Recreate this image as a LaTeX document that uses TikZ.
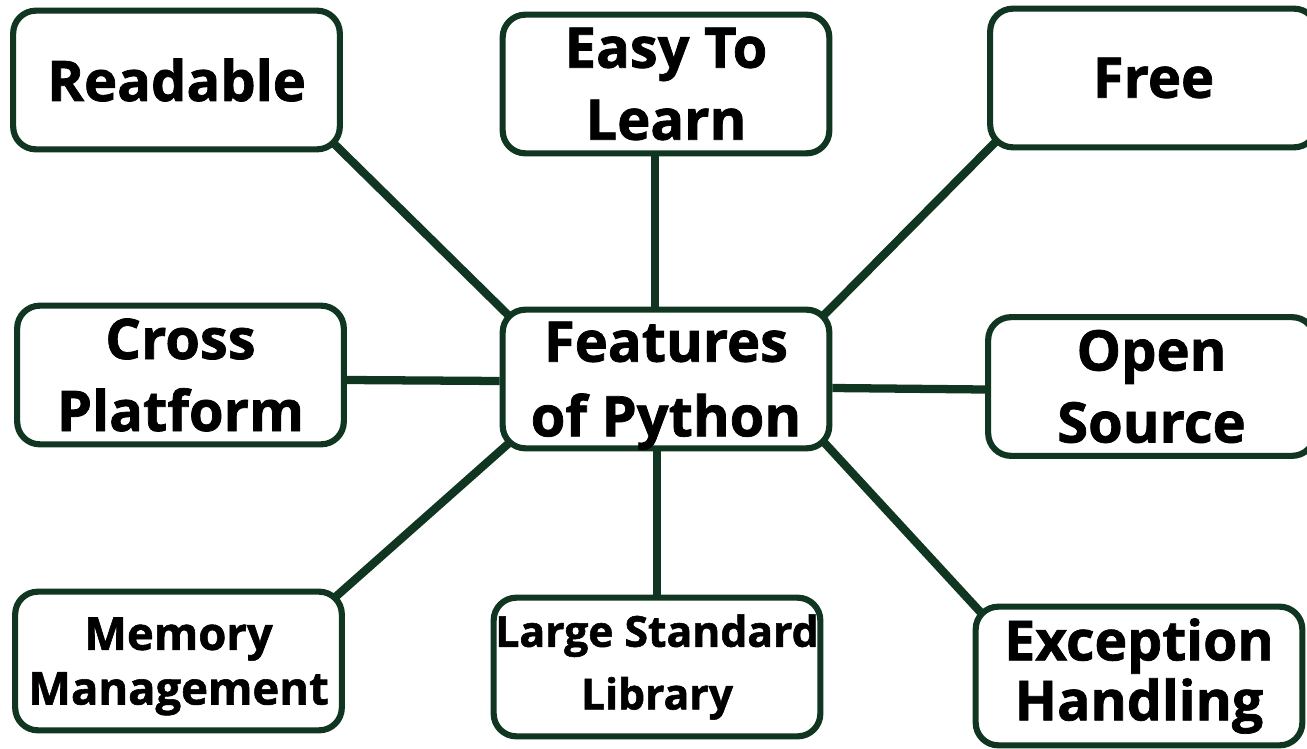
\documentclass[tikz,border=0pt]{standalone}
\usepackage{fontspec}
\setmainfont{Open Sans}[BoldFeatures={FakeBold=1.3}]
\usetikzlibrary{calc,backgrounds}
\definecolor{edge}{RGB}{16,54,34}
\newcommand{\fs}[2]{\fontsize{#1pt}{#2pt}\selectfont\bfseries}
\tikzset{
  feat/.style={draw=edge, line width=4.6pt, rounded corners=17pt, fill=white,
    inner sep=0pt, align=center, minimum width=245pt, minimum height=104pt},
  link/.style={draw=edge, line width=6.2pt},
  diag/.style={link, shorten <=-10pt, shorten >=-10pt},
}
\begin{document}
\begin{tikzpicture}[x=0.75pt,y=-0.75pt]
  \useasboundingbox (0,0) rectangle (1307,749);
  % feature boxes
  \node[feat, font=\fs{42}{54}] (read) at (176.5,80)  {Readable};
  \node[feat, font=\fs{42}{54}] (easy) at (666,84)    {Easy To\\Learn};
  \node[feat, font=\fs{42}{54}] (free) at (1153.5,78) {Free};
  \node[feat, font=\fs{42}{54}] (cross) at (180.5,375) {Cross\\Platform};
  \node[feat, font=\fs{42}{56}, text depth=0pt] (py) at (666,379) {Features\\of Python};
  \node[feat, font=\fs{42}{54}] (open) at (1151.5,386.5) {Open\\Source};
  \node[feat, font=\fs{34}{41}, text depth=0pt] (mem) at (178.5,661) {Memory\\Management};
  \node[feat, font=\fs{32}{47}] (lib) at (657,667)    {Large Standard\\Library};
  \node[feat, font=\fs{41.5}{45}] (exc) at (1139,676) {Exception\\Handling};
  % connectors, kept behind the boxes
  \begin{scope}[on background layer]
    \draw[diag] (read.south east) -- (py.north west);
    \draw[diag] (free.south west) -- (py.north east);
    \draw[diag] (mem.north east) -- (py.south west);
    \draw[diag] (exc.north west) -- (py.south east);
    \draw[link] ($(easy.south)+(-11,0)$) -- ($(py.north)+(-11,0)$);
    \draw[link] (lib.north) -- ($(py.south)+(-9,0)$);
    \draw[link] ($(cross.east)+(0,5)$) -- ($(py.west)+(0,2)$);
    \draw[link] ($(py.east)+(0,9)$) -- ($(open.west)+(0,3)$);
  \end{scope}
\end{tikzpicture}
\end{document}
